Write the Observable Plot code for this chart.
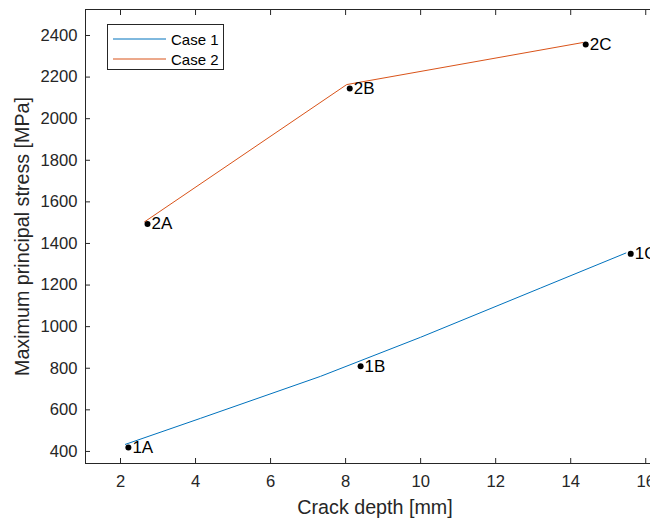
<!DOCTYPE html>
<html><head><meta charset="utf-8">
<script src="https://cdn.jsdelivr.net/npm/d3@7"></script>
<script src="https://cdn.jsdelivr.net/npm/@observablehq/plot@0.6"></script>
<style>
body{margin:0;background:#fff;font-family:"Liberation Sans",Arial,Helvetica,sans-serif;}
#wrap{position:relative;width:650px;height:519px;overflow:hidden;}
#legend{position:absolute;left:107px;top:24px;width:115px;height:44px;border:1px solid #262626;background:#fff;font-size:15px;color:#000;}
#legend .row{position:absolute;left:5px;height:20px;display:flex;align-items:center;}
#legend .row span{margin-left:5px;}
</style></head><body><div id="wrap"></div>
<script>
// Case 1 curve
const case1X = [2.13, 4.13, 7.33, 10.0, 13.2, 15.47];
const case1Y = [434, 559, 761, 949, 1186, 1354];
// Case 2 curve
const case2X = [2.64, 8.03, 14.32];
const case2Y = [1504, 2164, 2366];
// Marked points
const pointLabels = ["1A", "1B", "1C", "2A", "2B", "2C"];
const pointX = [2.21, 8.4, 15.6, 2.72, 8.11, 14.4];
const pointY = [419, 810, 1350, 1494, 2145, 2357];
// Axes
const xTicks = [2, 4, 6, 8, 10, 12, 14, 16];
const yTicks = [400, 600, 800, 1000, 1200, 1400, 1600, 1800, 2000, 2200, 2400];
const xDomain = [1.067, 16.5];
const yDomain = [342, 2525];
const seriesNames = ["Case 1", "Case 2"];
const seriesColors = ["#0072BD", "#D95319"];

const lineData = [
  ...case1X.map((x, i) => ({x, y: case1Y[i], series: seriesNames[0]})),
  ...case2X.map((x, i) => ({x, y: case2Y[i], series: seriesNames[1]}))
];
const points = pointLabels.map((label, i) => ({label, x: pointX[i], y: pointY[i]}));

const font = "'Liberation Sans', Arial, Helvetica, sans-serif";
const axisColor = "#262626";
const fmt = d => String(d);

const chart = Plot.plot({
  width: 650,
  height: 519,
  marginLeft: 85,
  marginRight: -14,
  marginTop: 9,
  marginBottom: 56,
  x: {domain: xDomain},
  y: {domain: yDomain},
  color: {domain: seriesNames, range: seriesColors},
  style: {fontFamily: font, fontSize: "16.6px", color: axisColor, background: "white"},
  marks: [
    Plot.frame({stroke: axisColor, strokeWidth: 1}),
    Plot.axisX({anchor: "bottom", ticks: xTicks, tickSize: -5, fill: "none", label: null, stroke: axisColor}),
    Plot.axisX({anchor: "top", ticks: xTicks, tickSize: -5, fill: "none", label: null, stroke: axisColor}),
    Plot.axisY({anchor: "left", ticks: yTicks, tickSize: -5, fill: "none", label: null, stroke: axisColor}),
    Plot.axisX({anchor: "bottom", ticks: xTicks, tickSize: 0, tickPadding: 12, fill: axisColor, tickFormat: fmt,
      label: "Crack depth [mm]", labelAnchor: "center", labelOffset: 50, labelArrow: "none"}),
    Plot.axisY({anchor: "left", ticks: yTicks, tickSize: 0, tickPadding: 8, fill: axisColor, tickFormat: fmt,
      label: "Maximum principal stress [MPa]", labelAnchor: "center", labelOffset: 71, labelArrow: "none"}),
    Plot.line(lineData, {x: "x", y: "y", z: "series", stroke: "series", strokeWidth: 1, curve: "linear"}),
    Plot.dot(points, {x: "x", y: "y", r: 3, fill: "black", stroke: null}),
    Plot.text(points, {x: "x", y: "y", text: "label", textAnchor: "start", dx: 4, fontSize: 17, fill: "black"})
  ]
});
// enlarge axis titles
d3.select(chart).selectAll("g[aria-label='x-axis label'] text, g[aria-label='y-axis label'] text").style("font-size", "19.7px");

const wrap = document.getElementById("wrap");
wrap.appendChild(chart);

const legend = d3.select(wrap).append("div").attr("id", "legend");
seriesNames.forEach((name, i) => {
  const row = legend.append("div").attr("class", "row").style("top", (4 + i * 20) + "px");
  const svg = row.append("svg").attr("width", 53).attr("height", 4);
  svg.append("line").attr("x1", 0).attr("x2", 53).attr("y1", 2).attr("y2", 2)
    .attr("stroke", seriesColors[i]).attr("stroke-width", 1);
  row.append("span").text(name);
});
</script>
</body></html>
